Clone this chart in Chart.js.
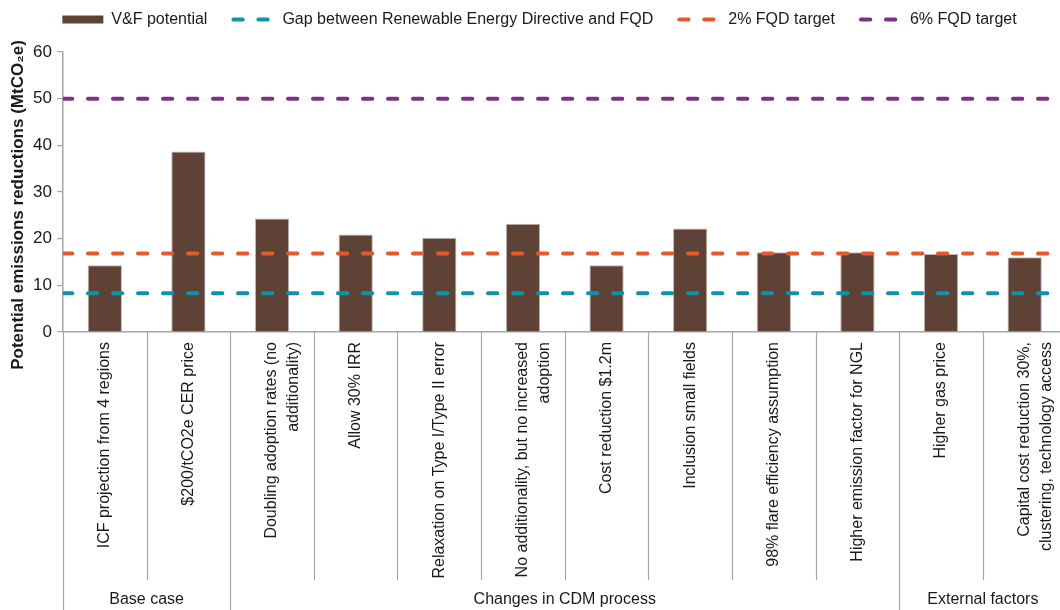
<!DOCTYPE html>
<html><head><meta charset="utf-8">
<script src="https://cdn.jsdelivr.net/npm/chart.js@4.4.1/dist/chart.umd.min.js"></script>
<style>
html,body{margin:0;padding:0;background:#fff;overflow:hidden;width:1060px;height:610px;}
#wrap{position:relative;width:1070px;height:610px;}
canvas{display:block;}
</style></head><body>
<div id="wrap"><canvas id="c" width="1070" height="610"></canvas></div>
<script>
// ---- data ----
const categories = [
  "ICF projection from 4 regions",
  "$200/tCO2e CER price",
  ["Doubling adoption rates (no", "additionality)"],
  "Allow 30% IRR",
  "Relaxation on Type I/Type II error",
  ["No additionality, but no increased", "adoption"],
  "Cost reduction $1.2m",
  "Inclusion small fields",
  "98% flare efficiency assumption",
  "Higher emission factor for NGL",
  "Higher gas price",
  ["Capital cost reduction 30%,", "clustering, technology access"]
];
const vfPotential = [14.3, 38.7, 24.3, 20.9, 20.2, 23.2, 14.3, 22.2, 17.1, 17.1, 16.7, 16.0];
const gapREDvsFQD = 8.3;
const fqdTarget2 = 16.8;
const fqdTarget6 = 50;
const groupNames = ["Base case", "Changes in CDM process", "External factors"];
const groupSizes = [2, 8, 2];
const yTicks = [0, 10, 20, 30, 40, 50, 60];
const seriesNames = ["V&F potential", "Gap between Renewable Energy Directive and FQD", "2% FQD target", "6% FQD target"];
const yTitle = "Potential emissions reductions (MtCO\u2082e)";

// ---- styles ----
const FONT = "'Liberation Sans', Arial, Helvetica, sans-serif";
const TEXT = "#1a1a1a";
const AXIS = "#a6a6a6";
const BROWN = "#5e4236";
const TEAL = "#0f93a8";
const ORANGE = "#e35b2c";
const PURPLE = "#7b3383";
const DASH = [9.3, 15.7];

Chart.defaults.font.family = FONT;
Chart.defaults.color = TEXT;

function hline(label, value, color) {
  return {
    type: 'line', label, xAxisID: 'xl', order: 0,
    data: [{x: 0, y: value}, {x: 1, y: value}],
    borderColor: color, backgroundColor: color, borderWidth: 4,
    borderDash: DASH, borderCapStyle: 'round',
    pointRadius: 0, pointStyle: 'line', fill: false
  };
}

const decorations = {
  id: 'decorations',
  beforeInit(chart) {
    const lg = chart.legend;
    const fit = lg.fit;
    lg.fit = function () { fit.call(this); this.height += 16; };
    const draw = lg.draw;
    lg.draw = function (area) {
      const c = this.ctx;
      c.save();
      c.translate(14, 1.5);
      draw.call(this, area);
      c.restore();
    };
  },
  afterDraw(chart) {
    const {ctx, chartArea, scales: {x}} = chart;
    const n = categories.length;
    const w = x.getPixelForValue(1) - x.getPixelForValue(0);
    const edge = i => x.getPixelForValue(i) - w / 2;
    const catBottom = chartArea.bottom + 248;
    const bottom = chart.height;
    const boundaries = [0];
    groupSizes.reduce((a, s) => { boundaries.push(a + s); return a + s; }, 0);
    ctx.save();
    ctx.strokeStyle = AXIS;
    ctx.lineWidth = 1.2;
    for (let i = 0; i <= n; i++) {
      const px = Math.round(edge(i)) + 0.5;
      ctx.beginPath();
      ctx.moveTo(px, chartArea.bottom);
      ctx.lineTo(px, boundaries.includes(i) ? bottom : catBottom);
      ctx.stroke();
    }
    ctx.fillStyle = TEXT;
    ctx.font = "16px " + FONT;
    ctx.textAlign = 'center';
    ctx.textBaseline = 'middle';
    groupNames.forEach((g, k) => {
      const cx = (edge(boundaries[k]) + edge(boundaries[k + 1])) / 2;
      ctx.fillText(g, cx, catBottom + 20);
    });
    // y-axis title
    ctx.save();
    ctx.translate(18.5, (chartArea.top + chartArea.bottom) / 2 + 13);
    ctx.rotate(-Math.PI / 2);
    ctx.font = "bold 17px " + FONT;
    ctx.fillText(yTitle, 0, 0);
    ctx.restore();
    ctx.restore();
  }
};

new Chart(document.getElementById('c'), {
  type: 'bar',
  data: {
    labels: categories,
    datasets: [
      {
        label: seriesNames[0], data: vfPotential, order: 1, grouped: false,
        backgroundColor: BROWN, borderColor: '#c4b6b0', borderWidth: 1,
        categoryPercentage: 1, barPercentage: 0.41, pointStyle: 'rect'
      },
      hline(seriesNames[1], gapREDvsFQD, TEAL),
      hline(seriesNames[2], fqdTarget2, ORANGE),
      hline(seriesNames[3], fqdTarget6, PURPLE)
    ]
  },
  options: {
    responsive: false,
    animation: false,
    devicePixelRatio: 1,
    layout: {padding: {left: 0, right: 3, top: 0, bottom: 0}},
    plugins: {
      tooltip: {enabled: false},
      legend: {
        position: 'top',
        labels: {
          font: {size: 16}, color: TEXT, usePointStyle: true, pointStyleWidth: 41,
          boxHeight: 8, padding: 10,
          sort: (a, b) => a.datasetIndex - b.datasetIndex,
          generateLabels(chart) {
            const items = Chart.defaults.plugins.legend.labels.generateLabels(chart);
            items.forEach(it => {
              const ds = chart.data.datasets[it.datasetIndex];
              it.text = it.text + '\u2003';
              if (ds.type === 'line') {
                it.lineDash = ds.borderDash;
                it.lineCap = 'round';
                it.pointStyle = 'line';
                it.strokeStyle = ds.borderColor;
                it.lineWidth = ds.borderWidth;
              } else {
                it.strokeStyle = ds.backgroundColor;
                it.lineWidth = 0;
                it.pointStyle = 'rect';
              }
            });
            return items;
          }
        }
      }
    },
    scales: {
      x: {
        type: 'category',
        grid: {display: false},
        border: {display: true, color: AXIS, width: 1.5},
        ticks: {
          autoSkip: false, minRotation: 90, maxRotation: 90, padding: 2,
          font: {size: 16, lineHeight: 1.35}, color: TEXT
        },
        afterFit(scale) { scale.height = 278; }
      },
      xl: {type: 'linear', min: 0, max: 1, display: false, offset: false, grid: {offset: false}},
      y: {
        min: 0, max: 60,
        afterBuildTicks(scale) { scale.ticks = yTicks.map(v => ({value: v})); },
        grid: {drawOnChartArea: false, drawTicks: true, tickLength: 6, color: AXIS, lineWidth: 1.2},
        border: {display: true, color: AXIS, width: 1.5},
        ticks: {font: {size: 17}, color: TEXT, padding: 5},
        title: {display: false},
        afterFit(scale) { scale.width = 63; }
      }
    }
  },
  plugins: [decorations]
});
</script>
</body></html>
